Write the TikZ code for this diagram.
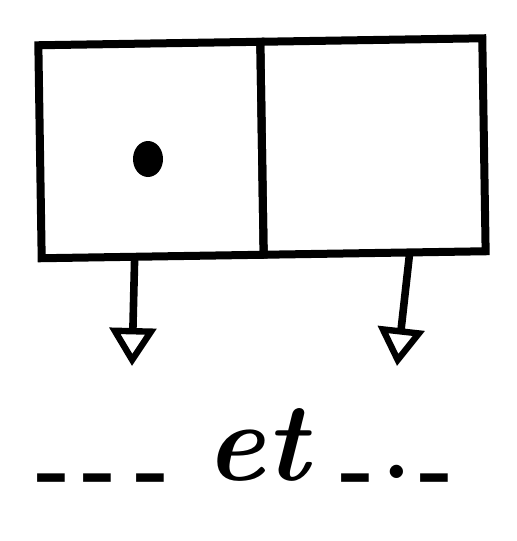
\documentclass[tikz,border=0pt]{standalone}
\usetikzlibrary{positioning,arrows.meta,shapes.geometric}
\tikzset{
	cell/.style={draw, line width=4pt, minimum width=111pt, minimum height=106.5pt, outer sep=0pt, rotate=0.9},
	ptr/.style={line width=3.8pt, -{Triangle[open, length=19pt, width=23pt, line width=3.2pt]}},
}
\begin{document}
\begin{tikzpicture}[x=0.5pt,y=-0.5pt]
	\useasboundingbox (0,0) rectangle (516,541);
	\node[cell] (lcell) at (151,150) {};
	\node[cell, right=0pt of lcell] (rcell) {};
	\node[ellipse, fill, minimum width=15pt, minimum height=18pt, inner sep=0pt] (dot) at (148,159) {};
	\coordinate (ltip) at (132,366);
	\coordinate (rtip) at (397,366);
	\draw[ptr] ([xshift=-9pt]lcell.south) -- (ltip);
	\draw[ptr] ([xshift=17.5pt]rcell.south) -- (rtip);
	\node[anchor=base, font=\fontsize{56}{60}\selectfont\bfseries] (etc) at (245,480)
		{{\fontsize{46}{50}\selectfont\raisebox{-9pt}{-}\hspace{6pt}\raisebox{-9pt}{-}\hspace{9pt}\raisebox{-9pt}{-}}\hspace{18pt}\textit{et}\hspace{14pt}{\fontsize{46}{50}\selectfont\raisebox{-9pt}{-}\hspace{4pt}\raisebox{1pt}{.}\hspace{4pt}\raisebox{-9pt}{-}}};
\end{tikzpicture}
\end{document}
